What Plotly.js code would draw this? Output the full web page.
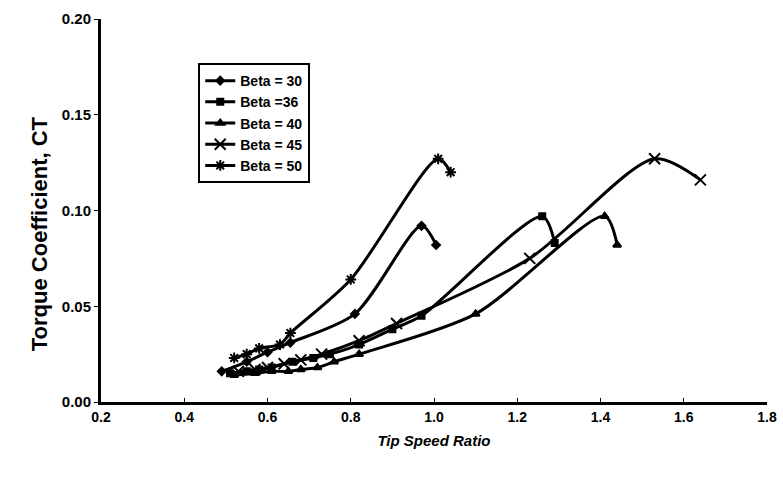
<!DOCTYPE html>
<html>
<head>
<meta charset="utf-8">
<script src="https://cdn.plot.ly/plotly-3.0.1.min.js"></script>
<style>html,body{margin:0;padding:0;background:#fff;}#chart{width:783px;height:481px;}</style>
</head>
<body>
<div id="chart"></div>
<script>
// Data
const seriesNames = ["Beta = 30", "Beta =36", "Beta = 40", "Beta = 45", "Beta = 50"];

const beta30_x = [0.49, 0.55, 0.60, 0.655, 0.81, 0.97, 1.005];
const beta30_y = [0.016, 0.021, 0.026, 0.031, 0.046, 0.092, 0.082];

const beta36_x = [0.51, 0.55, 0.58, 0.61, 0.66, 0.71, 0.75, 0.82, 0.90, 0.97, 1.26, 1.29];
const beta36_y = [0.015, 0.016, 0.017, 0.018, 0.021, 0.023, 0.025, 0.030, 0.038, 0.045, 0.097, 0.083];

const beta40_x = [0.52, 0.57, 0.61, 0.65, 0.68, 0.72, 0.76, 0.82, 1.10, 1.41, 1.44];
const beta40_y = [0.014, 0.015, 0.016, 0.016, 0.017, 0.018, 0.021, 0.025, 0.046, 0.097, 0.082];

const beta45_x = [0.53, 0.57, 0.60, 0.64, 0.68, 0.73, 0.82, 0.91, 1.23, 1.53, 1.64];
const beta45_y = [0.016, 0.017, 0.018, 0.020, 0.022, 0.025, 0.032, 0.041, 0.075, 0.127, 0.116];

const beta50_x = [0.52, 0.55, 0.58, 0.63, 0.655, 0.80, 1.01, 1.04];
const beta50_y = [0.023, 0.025, 0.028, 0.030, 0.036, 0.064, 0.127, 0.120];

const xTickVals = [0.2, 0.4, 0.6, 0.8, 1.0, 1.2, 1.4, 1.6, 1.8];
const xTickText = ["0.2", "0.4", "0.6", "0.8", "1.0", "1.2", "1.4", "1.6", "1.8"];
const yTickVals = [0, 0.05, 0.10, 0.15, 0.20];
const yTickText = ["0.00", "0.05", "0.10", "0.15", "0.20"];

const xs = [beta30_x, beta36_x, beta40_x, beta45_x, beta50_x];
const ys = [beta30_y, beta36_y, beta40_y, beta45_y, beta50_y];
const symbols = ["diamond", "square", "triangle-up", "x-thin-open", "asterisk-open"];
const sizes = [6, 6, 7, 11, 9];

const traces = xs.map((x, i) => ({
  x: x, y: ys[i], name: seriesNames[i],
  type: "scatter", mode: "lines+markers",
  line: {color: "#000", width: 3, shape: "spline", smoothing: 0.8},
  marker: {symbol: symbols[i], size: sizes[i], color: "#000", line: {color: "#000", width: 2}}
}));

const FONT = "Liberation Sans, Arial, sans-serif";

const layout = {
  width: 783, height: 481,
  margin: {l: 101, r: 16, t: 19, b: 79},
  paper_bgcolor: "#fff", plot_bgcolor: "#fff",
  showlegend: true,
  legend: {
    x: 0.146, y: 0.885, xanchor: "left", yanchor: "top",
    bordercolor: "#000", borderwidth: 2, bgcolor: "#fff",
    font: {family: FONT, size: 14, color: "#000", weight: "bold"},
    tracegroupgap: 0, itemwidth: 30
  },
  xaxis: {
    range: [0.2, 1.8], tickvals: xTickVals, ticktext: xTickText,
    showgrid: false, zeroline: false, showline: true, linecolor: "#000", linewidth: 3,
    ticks: "inside", ticklen: 4, tickcolor: "#000", tickwidth: 1,
    tickfont: {family: FONT, size: 14, color: "#000", weight: "bold"},
    title: {text: "Tip Speed Ratio", font: {family: FONT, size: 15, color: "#000", weight: "bold", style: "italic"}, standoff: 12}
  },
  yaxis: {
    range: [0, 0.2], tickvals: yTickVals, ticktext: yTickText,
    showgrid: false, zeroline: false, showline: true, linecolor: "#000", linewidth: 3,
    ticks: "outside", ticklen: 4, tickcolor: "#000", tickwidth: 1,
    tickfont: {family: FONT, size: 15, color: "#000", weight: "bold"}
  },
  annotations: [{
    text: "Torque Coefficient, CT", textangle: -90, showarrow: false,
    xref: "paper", yref: "paper", x: -0.092, y: 0.44, xanchor: "center", yanchor: "middle",
    font: {family: FONT, size: 22, color: "#000", weight: "bold"}
  }]
};

Plotly.newPlot("chart", traces, layout, {displayModeBar: false, staticPlot: true});
</script>
</body>
</html>
